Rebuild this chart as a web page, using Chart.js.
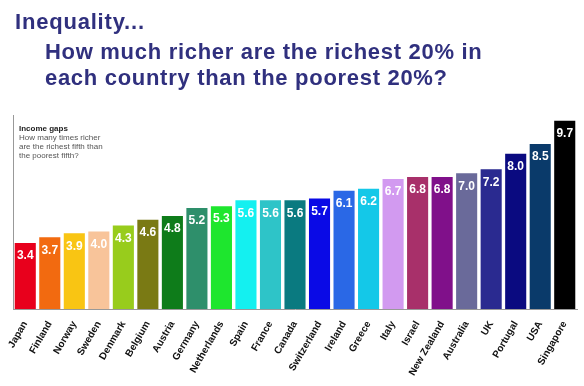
<!DOCTYPE html>
<html>
<head>
<meta charset="utf-8">
<script src="https://cdn.jsdelivr.net/npm/chart.js@4"></script>
<style>
  html, body { margin: 0; padding: 0; background: #fff; }
  #wrap { position: relative; width: 584px; height: 386px; overflow: hidden; }
  canvas { position: absolute; left: 0; top: 0; }
  .t { position: absolute; font-family: "Liberation Sans", Arial, sans-serif; font-weight: bold; color: #30307e;
       white-space: nowrap; font-size: 22px; line-height: 1; letter-spacing: 0.7px; }
  .note { position: absolute; left: 19px; top: 124px; font-family: "Liberation Sans", Arial, sans-serif; font-size: 8px; line-height: 9px; color: #555; }
  .note b { color: #222; }
</style>
</head>
<body>
<div id="wrap">
  <canvas id="chart" width="584" height="386"></canvas>
  <div class="t" style="left:15px; top:11px; letter-spacing:0.8px;">Inequality...</div>
  <div class="t" style="left:45px; top:41px;">How much richer are the richest 20% in</div>
  <div class="t" style="left:45px; top:67px;">each country than the poorest 20%?</div>
  <div class="note"><b>Income gaps</b><br>How many times richer<br>are the richest fifth than<br>the poorest fifth?</div>
</div>
<script>
const countries = ['Japan', 'Finland', 'Norway', 'Sweden', 'Denmark', 'Belgium', 'Austria', 'Germany',
  'Netherlands', 'Spain', 'France', 'Canada', 'Switzerland', 'Ireland', 'Greece', 'Italy', 'Israel',
  'New Zealand', 'Australia', 'UK', 'Portugal', 'USA', 'Singapore'];
const gaps = [3.4, 3.7, 3.9, 4.0, 4.3, 4.6, 4.8, 5.2, 5.3, 5.6, 5.6, 5.6, 5.7, 6.1, 6.2, 6.7, 6.8, 6.8, 7.0, 7.2, 8.0, 8.5, 9.7];
const barColors = ['#e8001c', '#f26a10', '#f9c513', '#f8c49a', '#98cc1c', '#7a7a14', '#0e7c1a', '#2e8f6b',
  '#1ee62e', '#14f0f0', '#2ec4c8', '#0a7a80', '#0a0ae6', '#2a68e6', '#14c8e8', '#d29af0', '#a8306a',
  '#80108a', '#6a6a9a', '#2a2a90', '#0a0a80', '#0a3a6a', '#000000'];

// white value labels just inside the top of each bar
const valueLabels = {
  id: 'valueLabels',
  afterDatasetsDraw(chart) {
    const ctx = chart.ctx;
    const meta = chart.getDatasetMeta(0);
    ctx.save();
    ctx.font = 'bold 12px "Liberation Sans", Arial, sans-serif';
    ctx.fillStyle = '#fff';
    ctx.textAlign = 'center';
    ctx.textBaseline = 'middle';
    meta.data.forEach((bar, i) => {
      ctx.fillText(gaps[i].toFixed(1), bar.x, bar.y + 13);
    });
    ctx.restore();
  }
};

new Chart(document.getElementById('chart'), {
  type: 'bar',
  data: {
    labels: countries,
    datasets: [{
      data: gaps,
      backgroundColor: barColors,
      barPercentage: 0.86,
      categoryPercentage: 1
    }]
  },
  options: {
    responsive: false,
    animation: false,
    layout: { padding: { top: 115, left: 0, right: 7, bottom: 0 } },
    plugins: { legend: { display: false }, tooltip: { enabled: false } },
    scales: {
      x: {
        grid: { display: false },
        border: { color: '#999', width: 1 },
        ticks: {
          color: '#111',
          font: { family: '"Liberation Sans", Arial, sans-serif', size: 10, weight: 'bold' },
          minRotation: 60, maxRotation: 60, autoSkip: false, padding: 2
        },
        afterFit(s) { s.height = 77; s.paddingLeft = 0; s.paddingRight = 0; }
      },
      y: {
        min: 0, max: 10,
        grid: { display: false },
        border: { color: '#999', width: 1 },
        ticks: { display: false },
        afterFit(s) { s.width = 13; }
      }
    }
  },
  plugins: [valueLabels]
});
</script>
</body>
</html>
